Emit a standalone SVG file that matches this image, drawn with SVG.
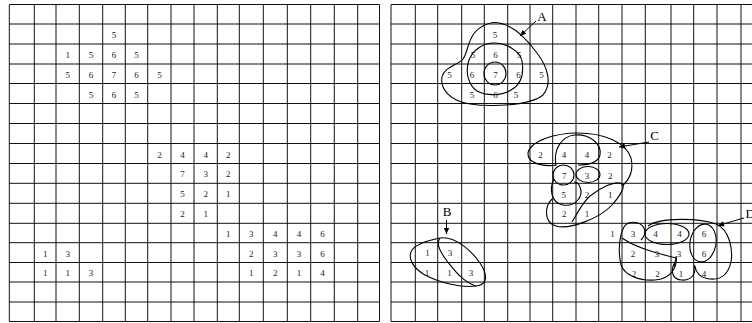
<svg xmlns="http://www.w3.org/2000/svg" width="752" height="323" viewBox="0 0 752 323">
<style>
.g{stroke:#111;stroke-width:1;fill:none}
.n{font-family:"Liberation Serif","DejaVu Serif",serif;font-size:9px;fill:#222;text-anchor:middle}
.lb{font-family:"Liberation Serif","DejaVu Serif",serif;font-size:13px;fill:#000;text-anchor:middle}
.c{stroke:#000;stroke-width:1.1;fill:none}
.ar{stroke:#000;stroke-width:1;fill:none}
</style>
<defs>
<marker id="ah" viewBox="0 0 10 10" refX="10" refY="5" markerWidth="7" markerHeight="6" orient="auto" markerUnits="userSpaceOnUse">
<path d="M0,0.5 L10,5 L0,9.5 z" fill="#000"/>
</marker>
</defs>
<rect width="752" height="323" fill="#fff"/>
<g id="left-grid" class="g">
<path d="M9.3 4.5V321.5M34.3 4.5V321.5M56 4.5V321.5M79.3 4.5V321.5M102.7 4.5V321.5M125.3 4.5V321.5M147.7 4.5V321.5M171 4.5V321.5M194 4.5V321.5M217.3 4.5V321.5M239.3 4.5V321.5M263.3 4.5V321.5M287.3 4.5V321.5M310.7 4.5V321.5M334.3 4.5V321.5M357.7 4.5V321.5M379.5 4.5V321.5"/>
<path d="M9.3 4.5H379.5M9.3 24H379.5M9.3 44H379.5M9.3 64H379.5M9.3 83.5H379.5M9.3 103.5H379.5M9.3 123.5H379.5M9.3 143.5H379.5M9.3 163.5H379.5M9.3 183.3H379.5M9.3 203.3H379.5M9.3 223.3H379.5M9.3 242.7H379.5M9.3 262.5H379.5M9.3 282H379.5M9.3 302H379.5M9.3 321.5H379.5"/>
</g>
<g id="right-grid" class="g">
<path d="M391 4.5V321.5M415.3 4.5V321.5M437.7 4.5V321.5M461.7 4.5V321.5M484.3 4.5V321.5M507.7 4.5V321.5M530 4.5V321.5M552.7 4.5V321.5M576 4.5V321.5M598.7 4.5V321.5M622 4.5V321.5M645.3 4.5V321.5M671 4.5V321.5M693.7 4.5V321.5M717 4.5V321.5M741 4.5V321.5"/>
<path d="M391 4.5H752M391 24H752M391 44H752M391 64H752M391 83.5H752M391 103.5H752M391 123.5H752M391 143.5H752M391 163.5H752M391 183.3H752M391 203.3H752M391 223.3H752M391 242.7H752M391 262.5H752M391 282H752M391 302H752M391 321.5H752"/>
</g>
<g id="left-values">
<text class="n" x="114" y="38">5</text>
<text class="n" x="67.7" y="58">1</text><text class="n" x="91" y="58">5</text><text class="n" x="114" y="58">6</text><text class="n" x="136.5" y="58">5</text>
<text class="n" x="67.7" y="77.8">5</text><text class="n" x="91" y="77.8">6</text><text class="n" x="114" y="77.8">7</text><text class="n" x="136.5" y="77.8">6</text><text class="n" x="159.4" y="77.8">5</text>
<text class="n" x="91" y="97.5">5</text><text class="n" x="114" y="97.5">6</text><text class="n" x="136.5" y="97.5">5</text>
<text class="n" x="159.4" y="157.5">2</text><text class="n" x="182.5" y="157.5">4</text><text class="n" x="205.7" y="157.5">4</text><text class="n" x="228.3" y="157.5">2</text>
<text class="n" x="182.5" y="177.4">7</text><text class="n" x="205.7" y="177.4">3</text><text class="n" x="228.3" y="177.4">2</text>
<text class="n" x="182.5" y="197.3">5</text><text class="n" x="205.7" y="197.3">2</text><text class="n" x="228.3" y="197.3">1</text>
<text class="n" x="182.5" y="217.3">2</text><text class="n" x="205.7" y="217.3">1</text>
<text class="n" x="228.3" y="237">1</text><text class="n" x="251.3" y="237">3</text><text class="n" x="275.3" y="237">4</text><text class="n" x="299" y="237">4</text><text class="n" x="322.5" y="237">6</text>
<text class="n" x="45.2" y="256.6">1</text><text class="n" x="67.7" y="256.6">3</text>
<text class="n" x="251.3" y="256.6">2</text><text class="n" x="275.3" y="256.6">3</text><text class="n" x="299" y="256.6">3</text><text class="n" x="322.5" y="256.6">6</text>
<text class="n" x="45.2" y="276.3">1</text><text class="n" x="67.7" y="276.3">1</text><text class="n" x="91" y="276.3">3</text>
<text class="n" x="251.3" y="276.3">1</text><text class="n" x="275.3" y="276.3">2</text><text class="n" x="299" y="276.3">1</text><text class="n" x="322.5" y="276.3">4</text>
</g>
<g id="cluster-A">
<text class="n" x="495" y="37.5">5</text>
<text class="n" x="473" y="57.5">5</text><text class="n" x="495.5" y="57.5">6</text><text class="n" x="519" y="57.5">5</text>
<text class="n" x="449.5" y="78">5</text><text class="n" x="472" y="78">6</text><text class="n" x="495.5" y="78">7</text><text class="n" x="518.5" y="78">6</text><text class="n" x="541.5" y="78">5</text>
<text class="n" x="472" y="97.5">5</text><text class="n" x="495.5" y="97.5">6</text><text class="n" x="516" y="97.5">5</text>
<path class="c" d="M493 22.5C510 22 526 38 537 53C547 66 553 83 543 95C530 106 490 107 470 104C450 101 440 89 442 77C444 67 458 65 463 59C470 50 466 28 493 22.5Z"/>
<path class="c" d="M494 43C506 43 520 51 522 61C524 73 522 84 511 90C501 96 486 96 477 91C468 85 465 71 469 60C473 50 483 43 494 43Z"/>
<ellipse class="c" cx="495" cy="73.5" rx="11" ry="11.5"/>
<text class="lb" x="542" y="20.5">A</text>
</g>
<g id="cluster-C">
<text class="n" x="540.5" y="157.5">2</text><text class="n" x="564" y="157.5">4</text><text class="n" x="587" y="157.5">4</text><text class="n" x="609.5" y="157.5">2</text>
<text class="n" x="564.3" y="178.5">7</text><text class="n" x="587" y="178.5">3</text><text class="n" x="610.3" y="178.5">2</text>
<text class="n" x="563.7" y="197.5">5</text><text class="n" x="587" y="197.5">2</text><text class="n" x="610.3" y="197.5">1</text>
<text class="n" x="564.3" y="216.5">2</text><text class="n" x="587" y="216.5">1</text>
<path class="c" d="M556 165C545 167 527 164 528 153C530 141 555 133 578 133C603 133 626 142 631 158C634 171 629 180 622 186"/>
<path class="c" d="M556 166C553 150 561 136 575 135C590 134 602 144 600 155C598 163 588 165 578 165"/>
<ellipse class="c" cx="563.5" cy="175" rx="10.5" ry="10"/>
<ellipse class="c" cx="588" cy="174.5" rx="12" ry="8"/>
<path class="c" d="M554 179C549 189 551 203 563 205C575 207 584 197 580 187C579 184 577 182 574 182"/>
<path class="c" d="M552 199C545 206 543 222 556 226C570 230 600 218 612 205C620 196 626 186 622 184C615 180 600 188 590 196C582 203 577 214 572 222"/>
<text class="lb" x="654.5" y="140">C</text>
</g>
<g id="cluster-B">
<text class="n" x="427.5" y="255.5">1</text><text class="n" x="450" y="255.5">3</text>
<text class="n" x="427" y="276">1</text><text class="n" x="449.5" y="276">1</text><text class="n" x="471" y="276">3</text>
<path class="c" d="M440 238C455 236 471 250 480 263C488 275 488 285 476 286C462 288 440 283 425 275C413 268 407 258 412 250C417 243 430 240 440 238Z"/>
<path class="c" d="M440 238C436 243 440 252 447 261C455 271 463 282 476 286"/>
<text class="lb" x="447" y="216">B</text>
</g>
<g id="cluster-D">
<text class="n" x="612.5" y="237">1</text><text class="n" x="633" y="237">3</text><text class="n" x="655.5" y="237">4</text><text class="n" x="679.5" y="237">4</text><text class="n" x="704" y="237">6</text>
<text class="n" x="633" y="256.5">2</text><text class="n" x="657" y="256.5">3</text><text class="n" x="679" y="256.5">3</text><text class="n" x="704" y="256.5">6</text>
<text class="n" x="634" y="276.5">2</text><text class="n" x="657.5" y="276.5">2</text><text class="n" x="681" y="276.5">1</text><text class="n" x="704" y="276.5">4</text>
<path class="c" d="M676 256C678 268 670 279 655 280C640 281 625 276 621 265C618 252 619 236 624 227C628 220 640 221 644 228C646 233 644 237 641 240"/>
<path class="c" d="M622 238C636 248 660 254 676 258L674 267"/>
<ellipse class="c" cx="667" cy="234" rx="22" ry="10.5"/>
<ellipse class="c" cx="703" cy="243" rx="13" ry="19" transform="rotate(10 703 243)"/>
<path class="c" d="M675 262C670 270 672 280 682 280C692 281 697 272 694 265"/>
<path class="c" d="M648 226C660 217 700 218 716 224C730 230 733 250 731 262C728 275 720 280 710 279C700 278 696 272 695 266"/>
<text class="lb" x="745.5" y="217.5" style="text-anchor:start">D</text>
</g>
<g id="connectors">
<path class="ar" d="M536 21L520 36" marker-end="url(#ah)"/>
<path class="ar" d="M649 142L619 147" marker-end="url(#ah)"/>
<path class="ar" d="M446.5 220V234" marker-end="url(#ah)"/>
<path class="ar" d="M744 218L718 225.5" marker-end="url(#ah)"/>
</g>
</svg>
